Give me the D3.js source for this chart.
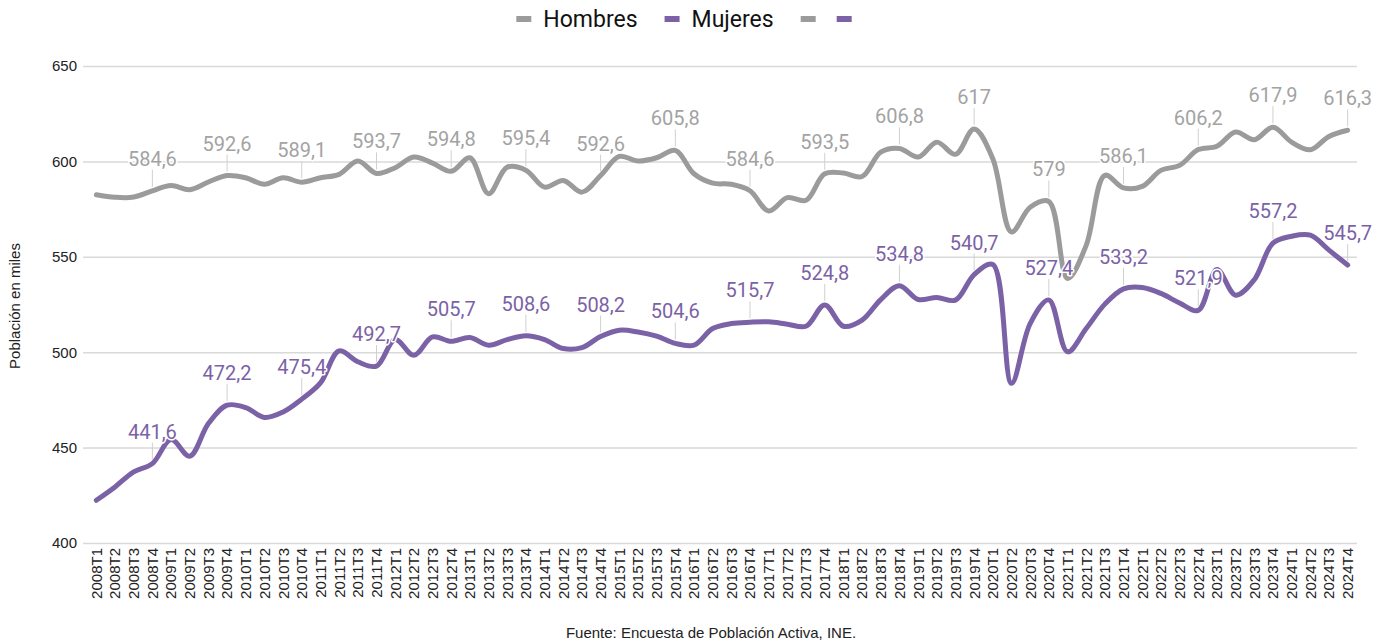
<!DOCTYPE html>
<html><head><meta charset="utf-8">
<script src="https://cdn.jsdelivr.net/npm/d3@7"></script>
<style>
html,body{margin:0;padding:0;background:#fff;}
svg{display:block;}
</style></head>
<body>
<svg id="chart" width="1375" height="643"></svg>
<script>
const quarters = ["2008T1","2008T2","2008T3","2008T4","2009T1","2009T2","2009T3","2009T4","2010T1","2010T2","2010T3","2010T4","2011T1","2011T2","2011T3","2011T4","2012T1","2012T2","2012T3","2012T4","2013T1","2013T2","2013T3","2013T4","2014T1","2014T2","2014T3","2014T4","2015T1","2015T2","2015T3","2015T4","2016T1","2016T2","2016T3","2016T4","2017T1","2017T2","2017T3","2017T4","2018T1","2018T2","2018T3","2018T4","2019T1","2019T2","2019T3","2019T4","2020T1","2020T2","2020T3","2020T4","2021T1","2021T2","2021T3","2021T4","2022T1","2022T2","2022T3","2022T4","2023T1","2023T2","2023T3","2023T4","2024T1","2024T2","2024T3","2024T4"];
const hombres = [582.5,581.2,581.3,584.6,587.4,585.2,589.2,592.6,591.4,588.0,591.4,589.1,591.4,593.2,600.2,593.7,596.7,602.3,599.1,594.8,601.9,583.1,597.0,595.4,586.5,590.0,583.9,592.6,602.6,600.2,601.9,605.8,593.5,588.6,588.0,584.6,574.0,581.0,579.6,593.5,593.9,592.1,604.9,606.8,602.3,610.1,603.7,617.0,601.4,563.0,576.0,579.0,538.6,556.0,592.7,586.1,586.9,595.3,597.9,606.2,607.9,615.4,611.4,617.9,610.1,606.1,613.1,616.3];
const mujeres = [422.4,429.4,437.3,441.6,454.2,445.5,462.6,472.2,471.0,465.8,468.7,475.4,483.9,500.7,495.0,492.7,506.6,498.4,508.0,505.7,507.7,503.7,506.6,508.6,506.6,501.9,502.4,508.2,511.5,510.6,508.4,504.6,503.7,512.4,515.0,515.7,515.9,514.7,513.6,524.8,513.6,516.8,527.6,534.8,527.6,528.7,527.3,540.7,546.0,483.7,515.0,527.4,500.2,512.4,525.2,533.2,533.9,530.8,525.8,521.9,543.3,529.9,538.0,557.2,560.8,561.3,553.5,545.7];
const yTicks = [400,450,500,550,600,650];
const legendLabels = ["Hombres","Mujeres","",""];

const colors = {hombres:"#9b9b9b", mujeres:"#7b62a6"};
const labelColors = {hombres:"#a3a3a3", mujeres:"#7b62a6"};

const svg = d3.select("#chart");
const plotLeft = 87, plotRight = 1357, plotTop = 66, plotBottom = 543;

const x = d3.scaleBand().domain(quarters).range([plotLeft, plotRight]);
const xc = q => x(q) + x.bandwidth()/2;
const y = d3.scaleLinear().domain([400,650]).range([plotBottom, plotTop]);

// grid
const yAxis = d3.axisLeft(y).tickValues(yTicks).tickSize(plotLeft - plotRight).tickPadding(10).tickFormat(d3.format("d"));
const gy = svg.append("g").attr("transform", `translate(${plotLeft},0)`).call(yAxis);
gy.select(".domain").remove();
gy.selectAll(".tick line").attr("stroke","#d9d9d9").attr("stroke-width",1.5);
gy.selectAll(".tick text").attr("font-family","'Liberation Sans', Arial, sans-serif").attr("font-size",15).attr("fill","#222");
gy.selectAll(".tick").append("line").attr("x1",-4).attr("x2",0).attr("stroke","#d9d9d9").attr("stroke-width",1.5);

// x axis labels
const xAxis = d3.axisBottom(x).tickSize(0).tickPadding(0);
const gx = svg.append("g").attr("transform", `translate(0,${plotBottom})`).call(xAxis);
gx.select(".domain").remove();
gx.selectAll(".tick text")
  .attr("font-family","'Liberation Sans', Arial, sans-serif").attr("font-size",15).attr("fill","#222")
  .attr("text-anchor","end").attr("transform","translate(0,5) rotate(-90)").attr("x",0).attr("y",0).attr("dy","0.36em");

// y title
svg.append("text").attr("transform","translate(20,306) rotate(-90)").attr("text-anchor","middle")
  .attr("font-family","'Liberation Sans', Arial, sans-serif").attr("font-size",15).attr("fill","#222")
  .text("Población en miles");

// footer
svg.append("text").attr("x",711).attr("y",638).attr("text-anchor","middle")
  .attr("font-family","'Liberation Sans', Arial, sans-serif").attr("font-size",15).attr("fill","#222")
  .text("Fuente: Encuesta de Población Activa, INE.");

const series = [
  {key:"hombres", values:hombres},
  {key:"mujeres", values:mujeres}
];

const line = d3.line().x((d,i)=>xc(quarters[i])).y(d=>y(d)).curve(d3.curveCatmullRom.alpha(0.5));

series.forEach(s=>{
  svg.append("path").attr("d", line(s.values)).attr("fill","none")
    .attr("stroke", colors[s.key]).attr("stroke-width",5).attr("stroke-linejoin","round").attr("stroke-linecap","round");
});

const fmt = v => (Math.round(v*10)/10).toString().replace(".", ",");
const labelLayer = svg.append("g");
series.forEach(s=>{
  s.values.forEach((v,i)=>{
    if(!quarters[i].endsWith("T4")) return;
    const px = xc(quarters[i]), py = y(v);
    labelLayer.append("line").attr("x1",px).attr("x2",px).attr("y1",py-21).attr("y2",py-4)
      .attr("stroke","#d0d0d0").attr("stroke-width",1);
  });
});
series.forEach(s=>{
  s.values.forEach((v,i)=>{
    if(!quarters[i].endsWith("T4")) return;
    const px = xc(quarters[i]), py = y(v);
    labelLayer.append("text").attr("x",px).attr("y",py-25).attr("text-anchor","middle")
      .attr("font-family","Roboto, sans-serif").attr("font-size",20)
      .attr("fill",labelColors[s.key]).attr("stroke","#fff").attr("stroke-width",3)
      .attr("paint-order","stroke").attr("stroke-linejoin","round")
      .text(fmt(v));
  });
});

// legend
const legendColors = [colors.hombres, colors.mujeres, colors.hombres, colors.mujeres];
const lg = svg.append("g");
let cx = 0;
legendLabels.forEach((lab,i)=>{
  const g = lg.append("g").attr("transform",`translate(${cx},0)`);
  g.append("rect").attr("x",0).attr("y",-3).attr("width",15).attr("height",6).attr("fill",legendColors[i]);
  if(lab){
    const t = g.append("text").attr("x",27).attr("y",0).attr("dy","0.35em")
      .attr("font-family","Roboto, sans-serif").attr("font-size",23).attr("fill","#111").text(lab);
    cx += 27 + t.node().getComputedTextLength() + 27;
  } else {
    cx += 15 + 21;
  }
});
const totalW = cx - 21;
lg.attr("transform",`translate(${684 - totalW/2},19)`);
</script>
</body></html>
